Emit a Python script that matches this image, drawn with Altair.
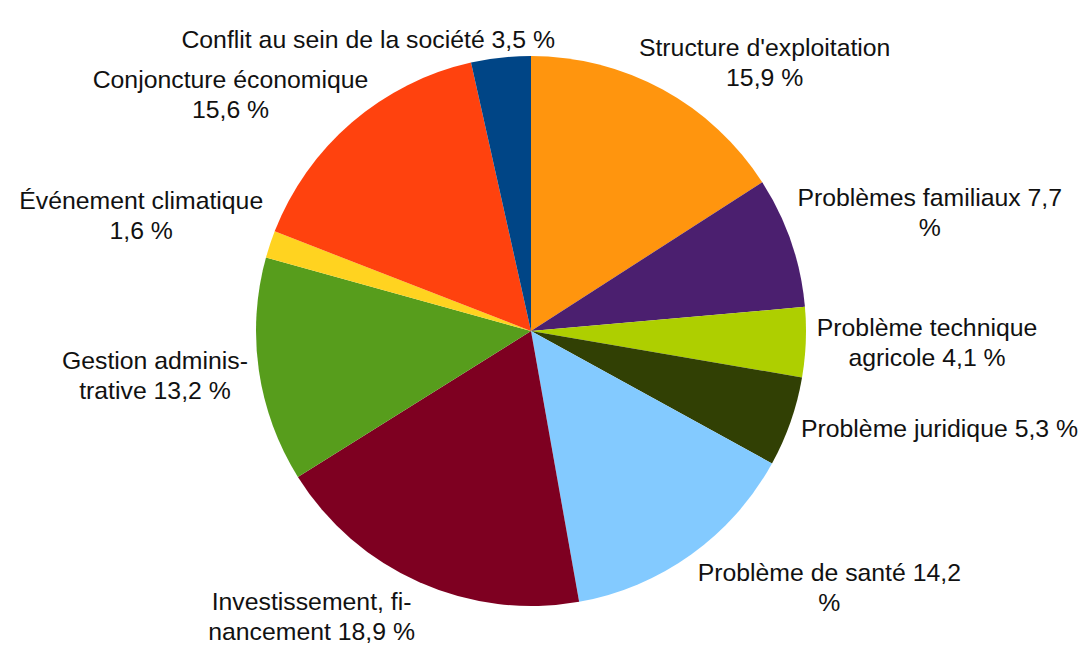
import altair as alt
import pandas as pd

categories = [
    "Structure d'exploitation",
    "Problèmes familiaux",
    "Problème technique agricole",
    "Problème juridique",
    "Problème de santé",
    "Investissement, financement",
    "Gestion administrative",
    "Événement climatique",
    "Conjoncture économique",
    "Conflit au sein de la société",
]
values = [15.9, 7.7, 4.1, 5.3, 14.2, 18.9, 13.2, 1.6, 15.6, 3.5]
labels = [
    "Structure d'exploitation\n15,9 %",
    "Problèmes familiaux 7,7\n%",
    "Problème technique\nagricole 4,1 %",
    "Problème juridique 5,3 %",
    "Problème de santé 14,2\n%",
    "Investissement, fi-\nnancement 18,9 %",
    "Gestion adminis-\ntrative 13,2 %",
    "Événement climatique\n1,6 %",
    "Conjoncture économique\n15,6 %",
    "Conflit au sein de la société 3,5 %",
]
colors = ["#FF950E", "#4B1F6F", "#AECF00", "#314004", "#83CAFF",
          "#7E0021", "#579D1C", "#FFD320", "#FF420E", "#004586"]

FS = 24.8
LH = 30

# Advance widths of Liberation Sans (Arial metrics), in 1/1000 em, used to
# estimate how wide each label line is.
_w = {" ": 278, "%": 889, "'": 191, ",": 278, "-": 333, "é": 556, "è": 556, "É": 667}
_w.update({d: 556 for d in "0123456789"})
_w.update(dict(zip("ABCDEFGHIJKLMNOPQRSTUVWXYZ",
                   [667, 667, 722, 722, 667, 611, 778, 722, 278, 500, 667, 556, 833,
                    722, 778, 667, 778, 722, 667, 611, 722, 667, 944, 667, 667, 611])))
_w.update(dict(zip("abcdefghijklmnopqrstuvwxyz",
                   [556, 556, 500, 556, 556, 278, 556, 556, 222, 222, 500, 222, 833,
                    556, 556, 556, 556, 333, 500, 278, 556, 500, 722, 500, 500, 500])))


def text_width(s):
    return sum(_w.get(ch, 556) for ch in s) * FS / 1000.0


nlines = [l.count("\n") + 1 for l in labels]
maxw = [max(text_width(p) for p in l.split("\n")) for l in labels]

df = pd.DataFrame({
    "cat": categories,
    "value": values,
    "label": labels,
    "idx": list(range(len(categories))),
    "nlines": nlines,
    "maxw": maxw,
})

CX, CY = 523, 323      # pie centre inside the plot area
R = 275                # pie radius
RX = 286               # label anchor radius (horizontal)
RY = 285               # label anchor radius (vertical)

base = alt.Chart(df)

pie = base.mark_arc(outerRadius=R).encode(
    theta=alt.Theta("value:Q", stack=True),
    color=alt.Color("cat:N", scale=alt.Scale(domain=categories, range=colors), legend=None),
    order=alt.Order("idx:Q", sort="ascending"),
    x=alt.value(CX),
    y=alt.value(CY),
)

text = (
    base.transform_joinaggregate(total="sum(value)")
    .transform_window(cum="sum(value)", sort=[alt.SortField("idx")], frame=[None, 0])
    .transform_calculate(mid="2*PI*(datum.cum - datum.value/2)/datum.total")
    .transform_calculate(s="sin(datum.mid)")
    .transform_calculate(c="cos(datum.mid)")
    .transform_calculate(hw="datum.maxw/2")
    .transform_calculate(hh=f"datum.nlines*{LH}/2")
    .transform_calculate(
        lx=f"{RX}*datum.s + (datum.s >= 0 ? 1 : -1)*datum.hw"
           f"*(1 - 0.3*pow(max(datum.c, 0), 2))")
    .transform_calculate(
        vy="datum.c > 0 ? min(3*datum.c, 1)*(1 - 0.5*datum.c*datum.c)"
           " : max(1.2*datum.c, -1)")
    .transform_calculate(
        ly=f"-{RY}*datum.c - datum.vy*datum.hh*0.9"
           f" - (datum.nlines - 1)*{LH}/2")
    .transform_calculate(lt="atan2(datum.lx, -datum.ly)")
    .transform_calculate(lr="sqrt(datum.lx*datum.lx + datum.ly*datum.ly)")
    .mark_text(
        font="Liberation Sans",
        fontSize=FS,
        lineBreak="\n",
        lineHeight=LH,
        align="center",
        baseline="middle",
        color="#111111",
    )
    .encode(
        theta=alt.Theta("lt:Q", scale=None, stack=False),
        radius=alt.Radius("lr:Q", scale=None),
        text="label:N",
        x=alt.value(CX),
        y=alt.value(CY),
    )
)

chart = (
    alt.layer(pie, text)
    .resolve_scale(theta="independent", radius="independent")
    .properties(width=1071, height=638, padding=0,
                autosize=alt.AutoSizeParams(type="none"))
    .configure_view(stroke=None)
)

chart.save("out.html", embed_options={"renderer": "svg", "actions": False})
